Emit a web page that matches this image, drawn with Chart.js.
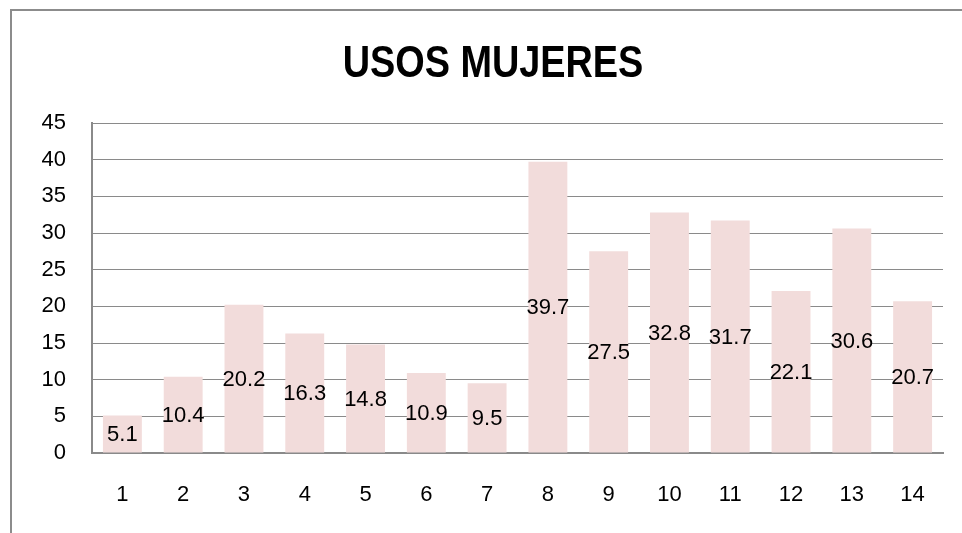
<!DOCTYPE html>
<html>
<head>
<meta charset="utf-8">
<script src="https://cdn.jsdelivr.net/npm/chart.js@4/dist/chart.umd.min.js"></script>
<style>
  html, body { margin: 0; padding: 0; background: #ffffff; overflow: hidden; }
  #frame { position: absolute; left: 10px; top: 9px; width: 1000px; height: 600px; border: 2px solid #8c8c8c; box-sizing: border-box; }
  #wrap { position: absolute; left: 0; top: 0; width: 962px; height: 533px; overflow: hidden; }
</style>
</head>
<body>
<div id="frame"></div>
<div id="wrap"><canvas id="c" width="986" height="533"></canvas></div>
<script>
const titleText = "USOS MUJERES";
const categories = ["1","2","3","4","5","6","7","8","9","10","11","12","13","14"];
const values = [5.1, 10.4, 20.2, 16.3, 14.8, 10.9, 9.5, 39.7, 27.5, 32.8, 31.7, 22.1, 30.6, 20.7];
const yTicks = [0, 5, 10, 15, 20, 25, 30, 35, 40, 45];

const FONT = "'Liberation Sans', Arial, sans-serif";

// Title drawn as real text, horizontally condensed to mimic the narrow original typeface
const condensedTitle = {
  id: 'condensedTitle',
  afterDraw(chart) {
    const ctx = chart.ctx;
    ctx.save();
    ctx.font = "bold 44px " + FONT;
    ctx.fillStyle = "#000000";
    ctx.textAlign = "center";
    ctx.textBaseline = "alphabetic";
    ctx.translate(chart.width / 2, 77);
    ctx.scale(0.86, 1);
    ctx.fillText(titleText, 0, 0);
    ctx.restore();
  }
};

const centerLabels = {
  id: 'centerLabels',
  afterDatasetsDraw(chart) {
    const ctx = chart.ctx;
    const meta = chart.getDatasetMeta(0);
    ctx.save();
    ctx.font = "22px " + FONT;
    ctx.fillStyle = "#000000";
    ctx.textAlign = "center";
    ctx.textBaseline = "middle";
    meta.data.forEach((bar, i) => {
      const y = (bar.y + bar.base) / 2;
      ctx.fillText(String(values[i]), bar.x, y + 1);
    });
    ctx.restore();
  }
};

new Chart(document.getElementById('c'), {
  type: 'bar',
  data: {
    labels: categories,
    datasets: [{
      data: values,
      backgroundColor: '#f2dcdb',
      borderWidth: 0,
      categoryPercentage: 1.0,
      barPercentage: 0.64
    }]
  },
  options: {
    responsive: false,
    animation: false,
    devicePixelRatio: 1,
    layout: { padding: { left: 0, right: 43, top: 123, bottom: 0 } },
    plugins: {
      legend: { display: false },
      tooltip: { enabled: false },
      title: { display: false, text: titleText }
    },
    scales: {
      x: {
        grid: { display: false, drawTicks: false },
        border: { display: true, color: '#8a8a8a', width: 2 },
        ticks: { color: '#000000', font: { family: FONT, size: 22 }, padding: 29, maxRotation: 0 },
        afterFit(scale) { scale.height = 80; }
      },
      y: {
        min: 0, max: 45,
        afterBuildTicks(scale) { scale.ticks = yTicks.map(v => ({ value: v })); },
        grid: { color: '#8a8a8a', lineWidth: 1, drawTicks: false },
        border: { display: true, color: '#8a8a8a', width: 2 },
        ticks: { color: '#000000', font: { family: FONT, size: 22 }, padding: 26 },
        afterFit(scale) { scale.width = 92; }
      }
    }
  },
  plugins: [centerLabels, condensedTitle]
});
</script>
</body>
</html>
